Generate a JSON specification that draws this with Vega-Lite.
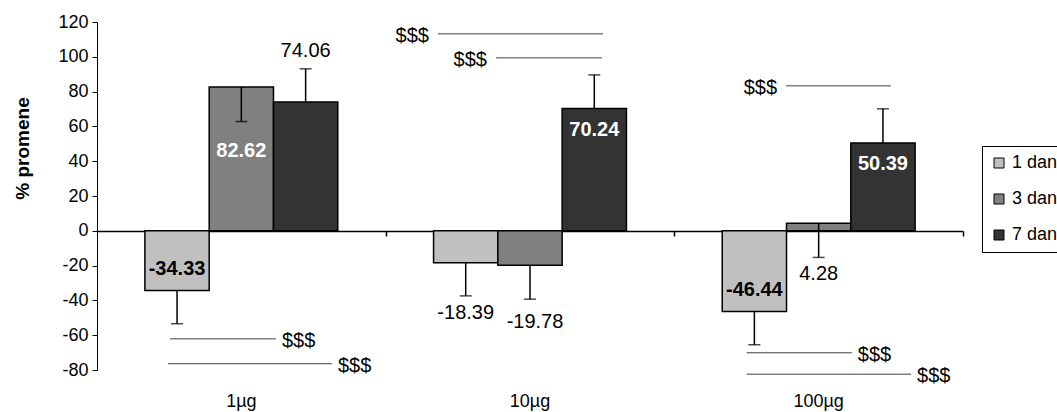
{
  "$schema": "https://vega.github.io/schema/vega-lite/v6.json",
  "width": 866,
  "height": 348,
  "autosize": {"type": "none"},
  "padding": {"left": 97, "top": 22, "right": 94, "bottom": 42},
  "background": "white",
  "config": {
    "font": "Liberation Sans",
    "view": {"stroke": null},
    "axis": {"labelColor": "black", "titleColor": "black", "domainColor": "black", "tickColor": "black", "grid": false},
    "axisY": {"labelOverlap": false, "tickSize": 5, "labelFontSize": 18, "labelPadding": 4, "titleFontSize": 19, "titleFontWeight": "bold"}
  },
  "datasets": {
    "bars": [
      {"dose": "1µg", "day": "1 dan", "value": -34.33, "errEnd": -53.4},
      {"dose": "1µg", "day": "3 dan", "value": 82.62, "errEnd": 62.8},
      {"dose": "1µg", "day": "7 dan", "value": 74.06, "errEnd": 93.1},
      {"dose": "10µg", "day": "1 dan", "value": -18.39, "errEnd": -37.4},
      {"dose": "10µg", "day": "3 dan", "value": -19.78, "errEnd": -39.3},
      {"dose": "10µg", "day": "7 dan", "value": 70.24, "errEnd": 89.6},
      {"dose": "100µg", "day": "1 dan", "value": -46.44, "errEnd": -65.5},
      {"dose": "100µg", "day": "3 dan", "value": 4.28, "errEnd": -15.3},
      {"dose": "100µg", "day": "7 dan", "value": 50.39, "errEnd": 70.1}
    ],
    "sig": [
      {"x1": 0.253, "x2": 0.620, "y": -62.1, "side": "right", "mark": "$$$"},
      {"x1": 0.246, "x2": 0.814, "y": -76.4, "side": "right", "mark": "$$$"},
      {"x1": 1.181, "x2": 1.753, "y": 113.2, "side": "left", "mark": "$$$"},
      {"x1": 1.382, "x2": 1.749, "y": 99.4, "side": "left", "mark": "$$$"},
      {"x1": 2.387, "x2": 2.750, "y": 83.3, "side": "left", "mark": "$$$"},
      {"x1": 2.251, "x2": 2.615, "y": -70.1, "side": "right", "mark": "$$$"},
      {"x1": 2.251, "x2": 2.820, "y": -82.4, "side": "right", "mark": "$$$"}
    ]
  },
  "resolve": {"scale": {"x": "independent"}, "axis": {"x": "independent"}},
  "layer": [
    {
      "data": {"name": "bars"},
      "encoding": {
        "x": {"field": "dose", "type": "nominal", "sort": ["1µg", "10µg", "100µg"], "scale": {"paddingInner": 0, "paddingOuter": 0},
          "axis": {"title": null, "labelAngle": 0, "domain": false, "ticks": false, "tickSize": 0, "labelPadding": 22, "labelFontSize": 18}},
        "xOffset": {"field": "day", "type": "nominal", "sort": ["1 dan", "3 dan", "7 dan"], "scale": {"paddingInner": 0, "paddingOuter": 0.745}}
      },
      "layer": [
        {
          "mark": {"type": "bar", "stroke": "black", "strokeWidth": 1.5},
          "encoding": {
            "y": {"field": "value", "type": "quantitative", "title": "% promene", "scale": {"domain": [-80, 120], "nice": false},
              "axis": {"values": [-80, -60, -40, -20, 0, 20, 40, 60, 80, 100, 120], "labelExpr": "datum.value + ''", "labelOverlap": false,
                "titleX": -75, "titleY": 126, "titleBaseline": "middle", "titleAngle": -90, "titleAlign": "center"}},
            "color": {"field": "day", "type": "nominal", "scale": {"domain": ["1 dan", "3 dan", "7 dan"], "range": ["#C0C0C0", "#808080", "#333333"]},
              "legend": {"title": null, "orient": "none", "legendX": 885, "legendY": 124, "strokeColor": "black", "fillColor": "white", "padding": 8,
                "symbolType": "square", "symbolSize": 100, "symbolStrokeColor": "black", "symbolStrokeWidth": 1, "labelFontSize": 18, "labelColor": "black", "rowPadding": 18, "labelOffset": 4}}
          }
        },
        {
          "mark": {"type": "rule", "stroke": "black", "strokeWidth": 1.5},
          "encoding": {
            "y": {"field": "value", "type": "quantitative", "title": "% promene", "scale": {"domain": [-80, 120], "nice": false},
              "axis": {"values": [-80, -60, -40, -20, 0, 20, 40, 60, 80, 100, 120], "labelExpr": "datum.value + ''", "labelOverlap": false}},
            "y2": {"field": "errEnd"}
          }
        },
        {
          "mark": {"type": "tick", "color": "black", "thickness": 1.5, "size": 12, "orient": "horizontal"},
          "encoding": {
            "y": {"field": "errEnd", "type": "quantitative", "title": "% promene", "scale": {"domain": [-80, 120], "nice": false},
              "axis": {"values": [-80, -60, -40, -20, 0, 20, 40, 60, 80, 100, 120], "labelExpr": "datum.value + ''", "labelOverlap": false}}
          }
        },
        {
          "transform": [{"filter": "datum.day == '1 dan' && datum.dose != '10µg'"}],
          "mark": {"type": "text", "fontSize": 20, "fontWeight": "bold", "color": "black", "baseline": "middle", "dy": -22},
          "encoding": {
            "y": {"field": "value", "type": "quantitative", "title": "% promene", "scale": {"domain": [-80, 120], "nice": false},
              "axis": {"values": [-80, -60, -40, -20, 0, 20, 40, 60, 80, 100, 120], "labelExpr": "datum.value + ''", "labelOverlap": false}},
            "text": {"field": "value", "type": "nominal"}
          }
        },
        {
          "transform": [{"filter": "datum.day == '7 dan' && datum.dose != '1µg'"}],
          "mark": {"type": "text", "fontSize": 20, "fontWeight": "bold", "color": "white", "baseline": "middle", "dy": 21},
          "encoding": {
            "y": {"field": "value", "type": "quantitative", "title": "% promene", "scale": {"domain": [-80, 120], "nice": false},
              "axis": {"values": [-80, -60, -40, -20, 0, 20, 40, 60, 80, 100, 120], "labelExpr": "datum.value + ''", "labelOverlap": false}},
            "text": {"field": "value", "type": "nominal"}
          }
        },
        {
          "transform": [{"filter": "datum.day == '3 dan' && datum.dose == '1µg'"}],
          "mark": {"type": "text", "fontSize": 20, "fontWeight": "bold", "color": "white", "baseline": "middle", "dy": 64},
          "encoding": {
            "y": {"field": "value", "type": "quantitative", "title": "% promene", "scale": {"domain": [-80, 120], "nice": false},
              "axis": {"values": [-80, -60, -40, -20, 0, 20, 40, 60, 80, 100, 120], "labelExpr": "datum.value + ''", "labelOverlap": false}},
            "text": {"field": "value", "type": "nominal"}
          }
        },
        {
          "transform": [{"filter": "datum.day == '7 dan' && datum.dose == '1µg'"}],
          "mark": {"type": "text", "fontSize": 20, "color": "black", "baseline": "middle", "dy": -18},
          "encoding": {
            "y": {"field": "errEnd", "type": "quantitative", "title": "% promene", "scale": {"domain": [-80, 120], "nice": false},
              "axis": {"values": [-80, -60, -40, -20, 0, 20, 40, 60, 80, 100, 120], "labelExpr": "datum.value + ''", "labelOverlap": false}},
            "text": {"field": "value", "type": "nominal"}
          }
        },
        {
          "transform": [{"filter": "(datum.dose == '10µg' && datum.day == '1 dan') || (datum.dose == '100µg' && datum.day == '3 dan')"}],
          "mark": {"type": "text", "fontSize": 20, "color": "black", "baseline": "middle", "dy": 17},
          "encoding": {
            "y": {"field": "errEnd", "type": "quantitative", "title": "% promene", "scale": {"domain": [-80, 120], "nice": false},
              "axis": {"values": [-80, -60, -40, -20, 0, 20, 40, 60, 80, 100, 120], "labelExpr": "datum.value + ''", "labelOverlap": false}},
            "text": {"field": "value", "type": "nominal"}
          }
        },
        {
          "transform": [{"filter": "datum.dose == '10µg' && datum.day == '3 dan'"}],
          "mark": {"type": "text", "fontSize": 20, "color": "black", "baseline": "middle", "dy": 23, "dx": 5},
          "encoding": {
            "y": {"field": "errEnd", "type": "quantitative", "title": "% promene", "scale": {"domain": [-80, 120], "nice": false},
              "axis": {"values": [-80, -60, -40, -20, 0, 20, 40, 60, 80, 100, 120], "labelExpr": "datum.value + ''", "labelOverlap": false}},
            "text": {"field": "value", "type": "nominal"}
          }
        }
      ]
    },
    {
      "data": {"name": "sig"},
      "layer": [
        {
          "mark": {"type": "rule", "stroke": "#404040", "strokeWidth": 1},
          "encoding": {
            "x": {"field": "x1", "type": "quantitative", "scale": {"domain": [0, 3], "nice": false, "zero": false},
              "axis": {"orient": "bottom", "offset": -139, "values": [1, 2, 3], "labels": false, "title": null, "tickSize": 5, "tickWidth": 1.5, "domainWidth": 1.5}},
            "x2": {"field": "x2"},
            "y": {"field": "y", "type": "quantitative", "title": "% promene", "scale": {"domain": [-80, 120], "nice": false},
              "axis": {"values": [-80, -60, -40, -20, 0, 20, 40, 60, 80, 100, 120], "labelExpr": "datum.value + ''", "labelOverlap": false}}
          }
        },
        {
          "transform": [{"filter": "datum.side == 'right'"}],
          "mark": {"type": "text", "fontSize": 20, "color": "black", "align": "left", "baseline": "middle", "dx": 6, "dy": 2},
          "encoding": {
            "x": {"field": "x2", "type": "quantitative", "scale": {"domain": [0, 3], "nice": false, "zero": false}},
            "y": {"field": "y", "type": "quantitative", "title": "% promene", "scale": {"domain": [-80, 120], "nice": false},
              "axis": {"values": [-80, -60, -40, -20, 0, 20, 40, 60, 80, 100, 120], "labelExpr": "datum.value + ''", "labelOverlap": false}},
            "text": {"field": "mark"}
          }
        },
        {
          "transform": [{"filter": "datum.side == 'left'"}],
          "mark": {"type": "text", "fontSize": 20, "color": "black", "align": "right", "baseline": "middle", "dx": -9, "dy": 2},
          "encoding": {
            "x": {"field": "x1", "type": "quantitative", "scale": {"domain": [0, 3], "nice": false, "zero": false}},
            "y": {"field": "y", "type": "quantitative", "title": "% promene", "scale": {"domain": [-80, 120], "nice": false},
              "axis": {"values": [-80, -60, -40, -20, 0, 20, 40, 60, 80, 100, 120], "labelExpr": "datum.value + ''", "labelOverlap": false}},
            "text": {"field": "mark"}
          }
        }
      ]
    }
  ]
}
